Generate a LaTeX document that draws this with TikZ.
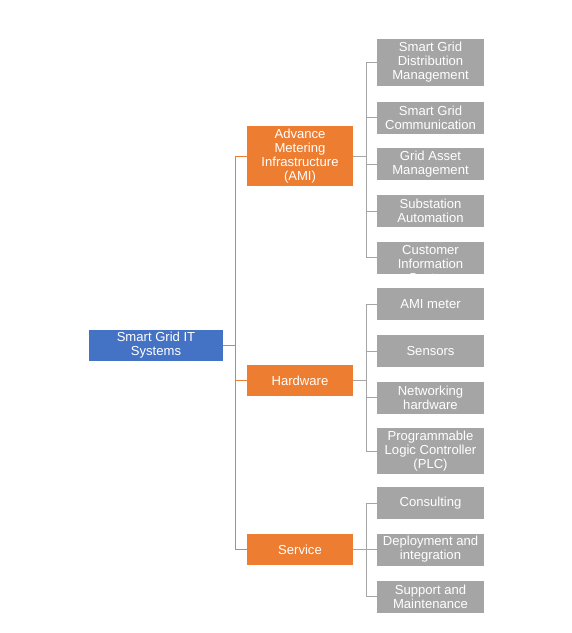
\documentclass[tikz,border=0pt]{standalone}
\usepackage{fontspec}
\setmainfont{Liberation Sans}
\usepackage{xcolor}
\usetikzlibrary{positioning}
\definecolor{gridblue}{RGB}{68,114,196}
\definecolor{gridorange}{RGB}{237,125,49}
\definecolor{gridgray}{RGB}{165,165,165}

\begin{document}
\begin{tikzpicture}[
  x=0.025cm, y=-0.025cm,
  rootbox/.style={fill=gridblue, text=white, minimum width=3.35cm,
                  minimum height=0.775cm, inner sep=1pt, align=center,
                  font=\fontsize{9.3}{10}\selectfont},
  areabox/.style={fill=gridorange, text=white, minimum width=2.65cm,
                  minimum height=0.775cm, inner sep=1pt, align=center,
                  font=\fontsize{9.3}{10}\selectfont},
  itembox/.style={fill=gridgray, text=white, minimum width=2.675cm,
                  minimum height=0.8cm, inner sep=1pt, align=center,
                  font=\fontsize{9.3}{10}\selectfont},
  link/.style={draw=gridorange, line width=0.7pt},
  sublink/.style={draw=gridgray, line width=0.7pt}
]
\useasboundingbox (0,0) rectangle (572,633);

\node[rootbox] (root) at (156,345.5) {Smart Grid IT\\Systems};

\node[areabox, minimum height=1.5cm] (ami) at (300,156) {Advance\\Metering\\Infrastructure\\(AMI)};
\node[areabox] (hw)  at (300,380.5) {Hardware};
\node[areabox] (svc) at (300,549.5) {Service};

\node[itembox, minimum height=1.175cm] (sgdm) at (430.5,62.5) {Smart Grid\\Distribution\\Management};
\node[itembox] (sgc) at (430.5,117.5) {Smart Grid\\Communication};
\node[itembox] (gam) at (430.5,164)   {Grid Asset\\Management};
\node[itembox] (sa)  at (430.5,211)   {Substation\\Automation};
\begin{scope}
  \clip (377,242) rectangle (484,273);
  \node[itembox] (cis) at (430.5,257.5) {\strut\\Customer\\Information\\System};
\end{scope}

\node[itembox] (amim) at (430.5,304)   {AMI meter};
\node[itembox] (sens) at (430.5,351)   {Sensors};
\node[itembox] (net)  at (430.5,397.5) {Networking\\hardware};
\node[itembox, minimum height=1.15cm] (plc) at (430.5,451) {Programmable\\Logic Controller\\(PLC)};

\node[itembox] (cons) at (430.5,503)   {Consulting};
\node[itembox] (dep)  at (430.5,549.5) {Deployment and\\integration};
\node[itembox] (sup)  at (430.5,596.5) {Support and\\Maintenance};

\draw[link] (root.east) -- ++(0.3cm,0) |- (ami.west);
\draw[link] (root.east) -- ++(0.3cm,0) |- (hw.west);
\draw[link] (root.east) -- ++(0.3cm,0) |- (svc.west);

\draw[sublink] (ami.east) -- ++(0.325cm,0) |- (sgdm.west);
\draw[sublink] (ami.east) -- ++(0.325cm,0) |- (sgc.west);
\draw[sublink] (ami.east) -- ++(0.325cm,0) |- (gam.west);
\draw[sublink] (ami.east) -- ++(0.325cm,0) |- (sa.west);
\draw[sublink] (ami.east) -- ++(0.325cm,0) |- (cis.west);

\draw[sublink] (hw.east) -- ++(0.325cm,0) |- (amim.west);
\draw[sublink] (hw.east) -- ++(0.325cm,0) |- (sens.west);
\draw[sublink] (hw.east) -- ++(0.325cm,0) |- (net.west);
\draw[sublink] (hw.east) -- ++(0.325cm,0) |- (plc.west);

\draw[sublink] (svc.east) -- ++(0.325cm,0) |- (cons.west);
\draw[sublink] (svc.east) -- ++(0.325cm,0) |- (dep.west);
\draw[sublink] (svc.east) -- ++(0.325cm,0) |- (sup.west);

\end{tikzpicture}
\end{document}
